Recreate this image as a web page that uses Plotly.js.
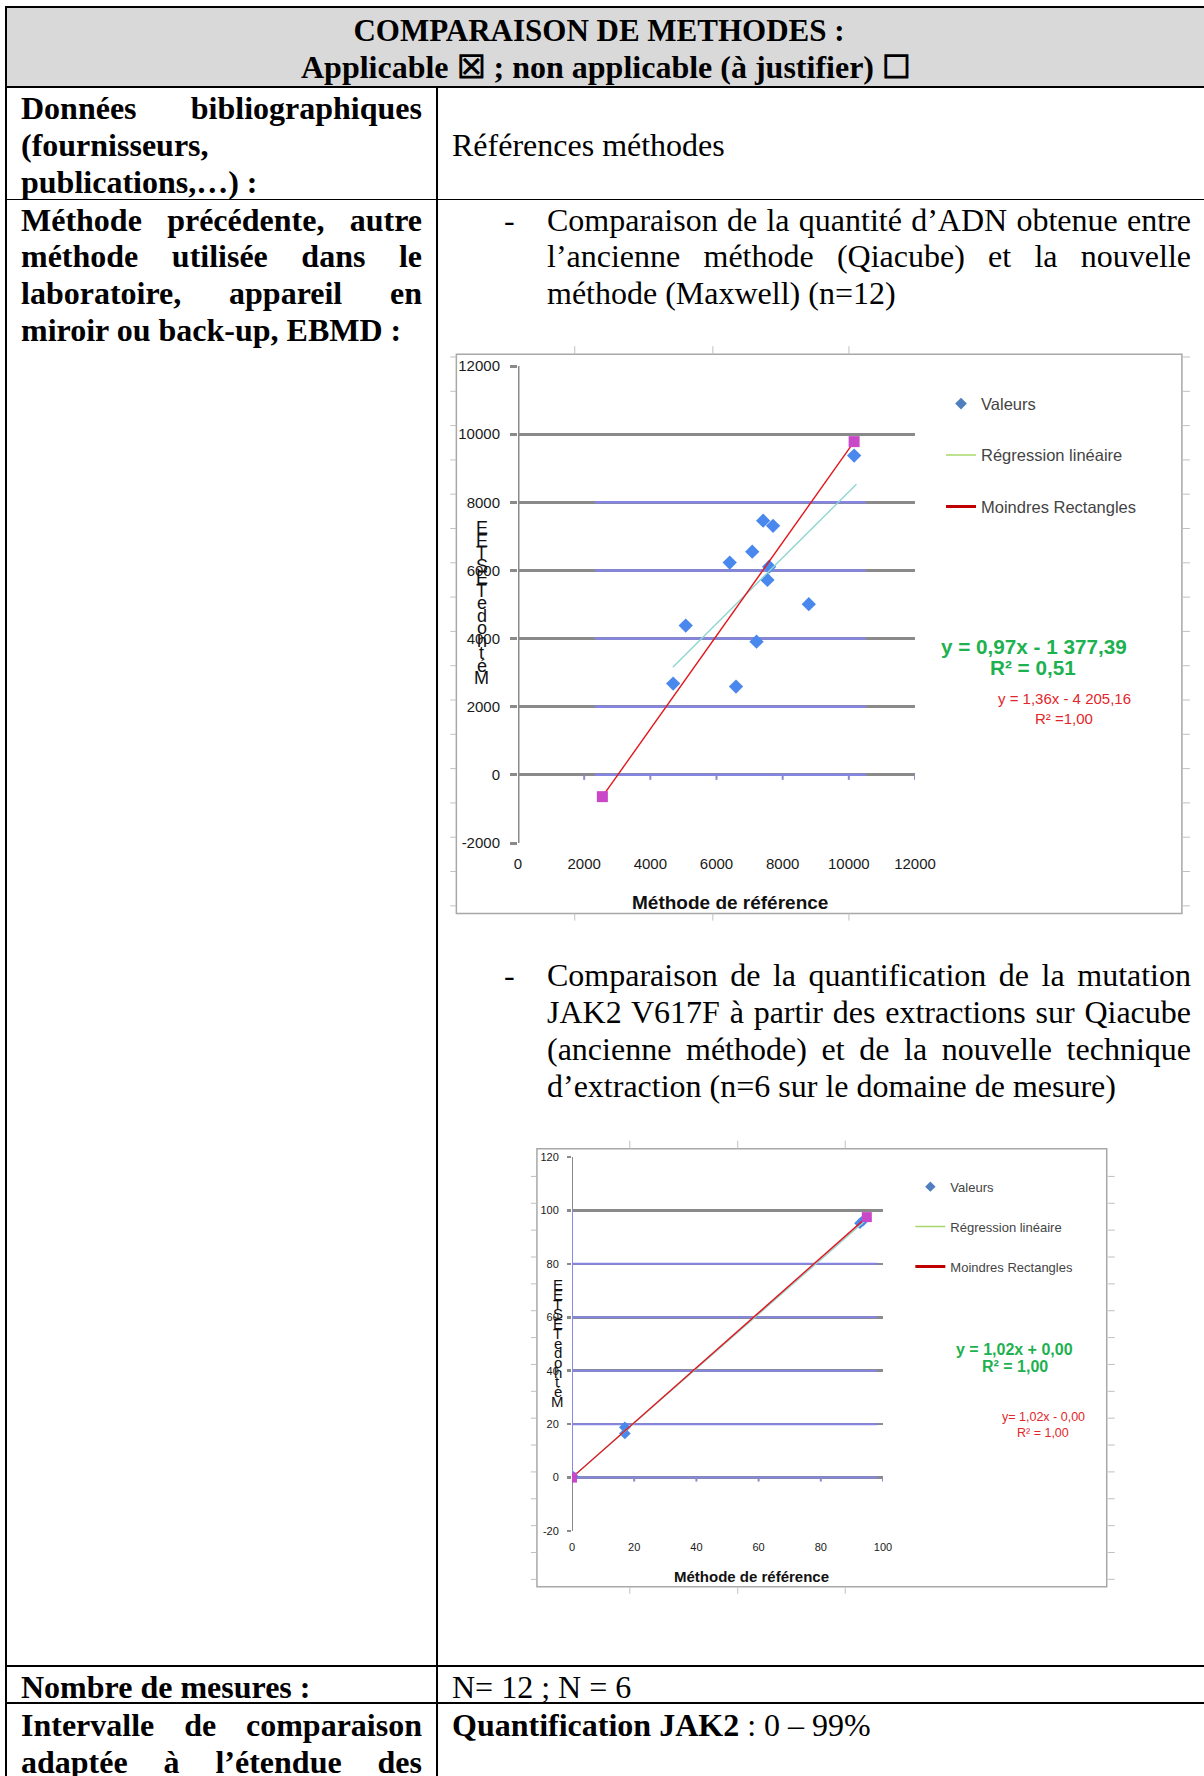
<!DOCTYPE html>
<html><head><meta charset="utf-8">
<script src="https://cdn.plot.ly/plotly-3.0.1.min.js"></script>
<style>
html,body{margin:0;padding:0;background:#fff;}
body{width:1204px;height:1776px;position:relative;overflow:hidden;font-family:"Liberation Serif","Times New Roman",serif;color:#000;}
.ln{position:absolute;background:#000;}
.t{position:absolute;font-size:32px;line-height:37px;white-space:nowrap;}
.b{font-weight:bold;}
.chart{position:absolute;}
</style></head><body>
<div id="table"></div>
<div id="chart1" class="chart"></div>
<div id="chart2" class="chart"></div>
<script>
// ---------- Chart 1 data : quantité d'ADN ----------
const valeursX1 = [10160, 7410, 7710, 7080, 6400, 7590, 7540, 8790, 5070, 7210, 4690, 6590];
const valeursY1 = [9370, 7460, 7310, 6550, 6230, 6110, 5720, 5010, 4380, 3910, 2680, 2590];
const regX1 = [4680, 10230];
const regY1 = [3160, 8530];
const rectX1 = [2550, 10160];
const rectY1 = [-640, 9780];
const xTickVals1 = [0, 2000, 4000, 6000, 8000, 10000, 12000];
const xTickText1 = ['0', '2000', '4000', '6000', '8000', '10000', '12000'];
const yTickVals1 = [-2000, 0, 2000, 4000, 6000, 8000, 10000, 12000];
const yTickText1 = ['-2000', '0', '2000', '4000', '6000', '8000', '10000', '12000'];
const blueGridY1 = [0, 2000, 4000, 6000, 8000];
const eqGreen1 = ['y = 0,97x - 1 377,39', 'R² = 0,51'];
const eqRed1 = ['y = 1,36x - 4 205,16', 'R² =1,00'];

// ---------- Chart 2 data : mutation JAK2 V617F ----------
const valeursX2 = [0, 0.4, 17, 17, 92.6, 93.6];
const valeursY2 = [0, 0.3, 18.8, 16.5, 95.2, 96.2];
const regX2 = [0, 94.8];
const regY2 = [0, 96.7];
const rectX2 = [0, 94.8];
const rectY2 = [0, 97.5];
const xTickVals2 = [0, 20, 40, 60, 80, 100];
const xTickText2 = ['0', '20', '40', '60', '80', '100'];
const yTickVals2 = [-20, 0, 20, 40, 60, 80, 100, 120];
const yTickText2 = ['-20', '0', '20', '40', '60', '80', '100', '120'];
const blueGridY2 = [0, 20, 40, 60, 80];
const eqGreen2 = ['y = 1,02x + 0,00', 'R² = 1,00'];
const eqRed2 = ['y= 1,02x - 0,00', 'R² = 1,00'];

const legendNames = ['Valeurs', 'Régression linéaire', 'Moindres Rectangles'];
const axisTitleX = 'Méthode de référence';
const axisTitleYLetters = ['E','E','T','S','E','T','e','d','o','h','t','é','M'];

// ---------- Table (document) ----------
const tbl = document.getElementById('table');
function line(l, t, w, h, bg) {
  const d = document.createElement('div'); d.className = 'ln';
  d.style.left = l + 'px'; d.style.top = t + 'px'; d.style.width = w + 'px'; d.style.height = h + 'px';
  if (bg) d.style.background = bg;
  tbl.appendChild(d);
}
line(6.8, 7.6, 1197.2, 78.6, '#d9d9d9');
line(5, 6, 1199, 1.6);
line(5, 6, 1.8, 1770);
line(5, 86, 1199, 1.7);
line(436, 86, 1.9, 1690);
line(5, 198.5, 1199, 1.7);
line(5, 1665.2, 1199, 1.8);
line(5, 1702.4, 1199, 1.8);

const textLines = [
  {t:'COMPARAISON DE METHODES :', cx:599, y:30, b:1, fs:31},
  {t:'Applicable ☒ ; non applicable (à justifier) ☐', cx:606, y:67, b:1, fs:32},
  {t:'Données bibliographiques', x:21, w:401, y:108, b:1, j:1},
  {t:'(fournisseurs,', x:21, y:145, b:1},
  {t:'publications,…) :', x:21, y:182, b:1},
  {t:'Références méthodes', x:452, y:145},
  {t:'Méthode précédente, autre', x:21, w:401, y:220, b:1, j:1},
  {t:'méthode utilisée dans le', x:21, w:401, y:256.7, b:1, j:1},
  {t:'laboratoire, appareil en', x:21, w:401, y:293.3, b:1, j:1},
  {t:'miroir ou back-up, EBMD :', x:21, y:330, b:1},
  {t:'-', x:504, y:220},
  {t:'Comparaison de la quantité d’ADN obtenue entre', x:547, w:644, y:220, j:1},
  {t:'l’ancienne méthode (Qiacube) et la nouvelle', x:547, w:644, y:256.7, j:1},
  {t:'méthode (Maxwell) (n=12)', x:547, y:293.3},
  {t:'-', x:504, y:975},
  {t:'Comparaison de la quantification de la mutation', x:547, w:644, y:975, j:1},
  {t:'JAK2 V617F à partir des extractions sur Qiacube', x:547, w:644, y:1012, j:1},
  {t:'(ancienne méthode) et de la nouvelle technique', x:547, w:644, y:1049, j:1},
  {t:'d’extraction (n=6 sur le domaine de mesure)', x:547, y:1086},
  {t:'Nombre de mesures :', x:21, y:1687, b:1},
  {t:'N= 12 ; N = 6', x:452, y:1687},
  {t:'Intervalle de comparaison', x:21, w:401, y:1725, b:1, j:1},
  {t:'adaptée à l’étendue des', x:21, w:401, y:1762, b:1, j:1},
  {html:'<b>Quantification JAK2</b> : 0 – 99%', x:452, y:1725}
];
textLines.forEach(o => {
  const d = document.createElement('div'); d.className = 't' + (o.b ? ' b' : '');
  if (o.html) d.innerHTML = o.html; else d.textContent = o.t;
  if (o.fs) d.style.fontSize = o.fs + 'px';
  d.style.top = (o.y - 18.5) + 'px';
  tbl.appendChild(d);
  const wNat = d.getBoundingClientRect().width;
  if (o.cx !== undefined) d.style.left = (o.cx - wNat / 2) + 'px';
  else d.style.left = o.x + 'px';
  if (o.j) {
    const n = (o.t.match(/ /g) || []).length;
    if (n > 0) d.style.wordSpacing = ((o.w - wNat) / n) + 'px';
  }
});

// ---------- Chart builder ----------
function build(id, g, d) {
  const el = document.getElementById(id);
  el.style.left = g.left + 'px'; el.style.top = g.top + 'px';
  el.style.width = g.w + 'px'; el.style.height = g.h + 'px';
  const px = X => (X - g.L) / (g.R - g.L);
  const py = Y => (g.B - Y) / (g.B - g.T);
  const xr = d.xRange, yr = d.yRange;
  const dyPx = (yr[1] - yr[0]) / (g.B - g.T);
  const traces = [
    {x: d.vx, y: d.vy, type: 'scatter', mode: 'markers', showlegend: false,
     marker: {symbol: 'diamond', size: g.mk, color: '#4a88ee'}},
    {x: d.rx, y: d.ry, type: 'scatter', mode: 'lines', showlegend: false,
     line: {color: '#8fd6cf', width: 1.4}},
    {x: d.lx, y: d.ly, type: 'scatter', mode: 'lines+markers', showlegend: false,
     line: {color: '#e3161c', width: 1.4},
     marker: {symbol: 'square', size: g.sq, color: '#c848c8'}},
    {x: [null], y: [null], type: 'scatter', mode: 'markers', name: legendNames[0], legendgroup: 'a',
     marker: {symbol: 'diamond', size: g.lmk, color: '#4f7fbf'}},
    {x: [null], y: [null], type: 'scatter', mode: 'lines', name: legendNames[1], legendgroup: 'b',
     line: {color: '#a6d86e', width: 1.5}},
    {x: [null], y: [null], type: 'scatter', mode: 'lines', name: legendNames[2], legendgroup: 'c',
     line: {color: '#c00000', width: 3}}
  ];
  const shapes = [];
  shapes.push({type: 'line', xref: 'x', yref: 'y', x0: 0, x1: 0, y0: yr[0], y1: yr[1], layer: 'between',
               line: {color: '#8a8a8a', width: g.axw}});
  if (g.blueAxis) shapes.push({type: 'line', xref: 'x', yref: 'y', x0: 0, x1: 0, y0: 0, y1: d.blueTop, layer: 'between',
               line: {color: '#8a8ae6', width: 2}});
  d.blueY.forEach(v => shapes.push({type: 'line', xref: 'x', yref: 'y', x0: d.blueX[0], x1: d.blueX[1], y0: v, y1: v,
               layer: 'between', line: {color: '#8585e3', width: g.bw}}));
  d.xt.slice(1).forEach(v => shapes.push({type: 'line', xref: 'x', yref: 'y', x0: v, x1: v, y0: 0, y1: -g.xtl * dyPx,
               layer: 'between', line: {color: '#8a8ad0', width: 2}}));
  shapes.push({type: 'rect', xref: 'paper', yref: 'paper', x0: px(g.fL), x1: px(g.fR), y0: py(g.fB), y1: py(g.fT),
               line: {color: '#a8a8a8', width: 1.5}, layer: 'above'});
  const rc = '#c0c0c0';
  for (let k = 0; k <= g.rN; k++) {
    const Y = g.rY0 + k * g.rDY;
    shapes.push({type: 'line', xref: 'paper', yref: 'paper', x0: px(g.fL - 6), x1: px(g.fL), y0: py(Y), y1: py(Y), line: {color: rc, width: 1}});
    shapes.push({type: 'line', xref: 'paper', yref: 'paper', x0: px(g.fR + 1), x1: px(g.fR + 8), y0: py(Y), y1: py(Y), line: {color: rc, width: 1}});
  }
  g.rX.forEach(X => {
    shapes.push({type: 'line', xref: 'paper', yref: 'paper', x0: px(X), x1: px(X), y0: py(g.fT - 8), y1: py(g.fT), line: {color: rc, width: 1}});
    shapes.push({type: 'line', xref: 'paper', yref: 'paper', x0: px(X), x1: px(X), y0: py(g.fB), y1: py(g.fB + 7), line: {color: rc, width: 1}});
  });
  const ann = [];
  const addText = (txt, X, Y, size, color, bold) => ann.push({xref: 'paper', yref: 'paper', x: px(X), y: py(Y),
      xanchor: 'center', yanchor: 'middle', showarrow: false,
      text: bold ? '<b>' + txt + '</b>' : txt,
      font: {family: 'Liberation Sans, Arial, sans-serif', size: size, color: color}});
  addText(axisTitleX, g.xtX, g.xtY, g.xtS, '#111', true);
  axisTitleYLetters.forEach((c, i) => addText(c, g.ytX, g.ytY0 + i * g.ytDY, g.ytS, '#111', false));
  addText(d.eqG[0], g.eg1[0], g.eg1[1], g.egS, '#1db14f', true);
  addText(d.eqG[1], g.eg2[0], g.eg2[1], g.egS, '#1db14f', true);
  addText(d.eqR[0], g.er1[0], g.er1[1], g.erS, '#e2262a', false);
  addText(d.eqR[1], g.er2[0], g.er2[1], g.erS, '#e2262a', false);

  const tf = {family: 'Liberation Sans, Arial, sans-serif', size: g.tfs, color: '#1a1a1a'};
  const layout = {
    width: g.w, height: g.h,
    margin: {l: g.L - g.left, r: g.left + g.w - g.R, t: g.T - g.top, b: g.top + g.h - g.B, pad: 0},
    paper_bgcolor: 'rgba(0,0,0,0)', plot_bgcolor: 'rgba(0,0,0,0)',
    font: {family: 'Liberation Sans, Arial, sans-serif'},
    xaxis: {range: xr, tickvals: d.xt, ticktext: d.xtt, showgrid: false, zeroline: false, showline: false,
            ticks: '', tickfont: tf, ticklabelstandoff: g.xso, fixedrange: true},
    yaxis: {range: yr, tickvals: d.yt, ticktext: d.ytt, showgrid: true, gridcolor: '#8a8a8a', gridwidth: g.gw,
            zeroline: false, showline: false, ticks: 'outside', ticklen: g.ytl, tickwidth: g.gw, tickcolor: '#8a8a8a',
            tickfont: tf, ticklabelstandoff: g.yso, fixedrange: true},
    showlegend: true,
    legend: {x: px(g.lgX), y: py(g.lgY), xanchor: 'left', yanchor: 'top', bgcolor: 'rgba(0,0,0,0)',
             font: {family: 'Liberation Sans, Arial, sans-serif', size: g.lgS, color: '#444'},
             tracegroupgap: g.lgGap, itemwidth: 30},
    shapes: shapes, annotations: ann
  };
  Plotly.newPlot(el, traces, layout, {displayModeBar: false, staticPlot: true});
}

build('chart1', {
  left: 440, top: 335, w: 764, h: 600, L: 518.3, R: 915, T: 365.7, B: 842.7,
  fL: 456.7, fR: 1181.7, fT: 354, fB: 913.3,
  rY0: 356.7, rDY: 34.3, rN: 16, rX: [575, 713, 849],
  mk: 11, sq: 11, lmk: 9, axw: 3, gw: 3, bw: 2.5, xtl: 5, ytl: 7, tfs: 15, xso: 10, yso: 7,
  blueAxis: false,
  xtX: 730, xtY: 901.7, xtS: 19, ytX: 482, ytY0: 528, ytDY: 12.5, ytS: 18,
  eg1: [1034, 646], eg2: [1032.5, 667], egS: 20.7, er1: [1064, 697.7], er2: [1064, 717.7], erS: 15,
  lgX: 941, lgY: 386, lgS: 16.5, lgGap: 27
}, {
  vx: valeursX1, vy: valeursY1, rx: regX1, ry: regY1, lx: rectX1, ly: rectY1,
  xRange: [0, 12000], yRange: [-2000, 12000], xt: xTickVals1, xtt: xTickText1, yt: yTickVals1, ytt: yTickText1,
  blueY: blueGridY1, blueX: [2320, 10520], eqG: eqGreen1, eqR: eqRed1
});

build('chart2', {
  left: 520, top: 1130, w: 684, h: 480, L: 572.3, R: 882.7, T: 1157.3, B: 1531,
  fL: 537.3, fR: 1106, fT: 1149, fB: 1586.7,
  rY0: 1176.7, rDY: 26.84, rN: 15, rX: [630, 737.7, 845],
  mk: 9, sq: 10, lmk: 8, axw: 2, gw: 2.5, bw: 2, xtl: 4, ytl: 4, tfs: 11, xso: 8, yso: 6,
  blueAxis: true,
  xtX: 751.7, xtY: 1576.7, xtS: 15, ytX: 558, ytY0: 1285, ytDY: 9.7, ytS: 15,
  eg1: [1014.3, 1349.3], eg2: [1014.3, 1366.7], egS: 16, er1: [1042.8, 1416.7], er2: [1042.8, 1433.3], erS: 12.5,
  lgX: 910, lgY: 1172, lgS: 13, lgGap: 20
}, {
  vx: valeursX2, vy: valeursY2, rx: regX2, ry: regY2, lx: rectX2, ly: rectY2,
  xRange: [0, 100], yRange: [-20, 120], xt: xTickVals2, xtt: xTickText2, yt: yTickVals2, ytt: yTickText2,
  blueY: blueGridY2, blueX: [0, 98.2], blueTop: 100, eqG: eqGreen2, eqR: eqRed2
});
</script>
</body></html>
